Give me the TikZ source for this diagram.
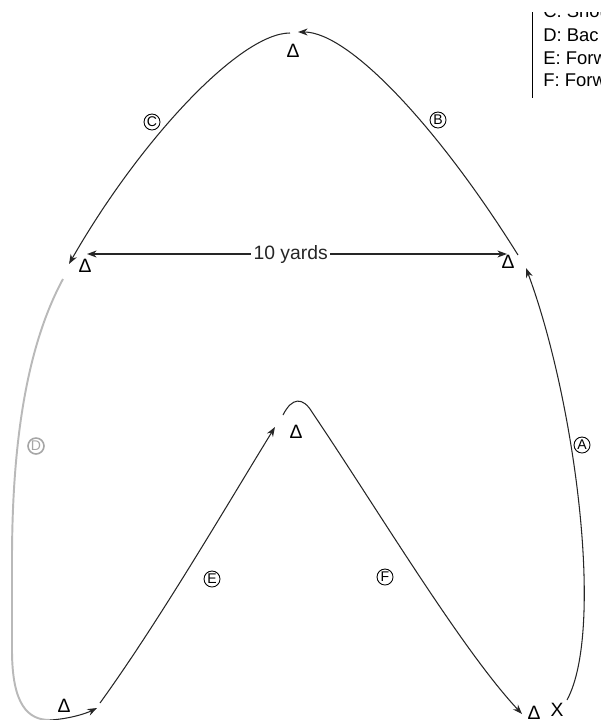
\documentclass[tikz,border=0pt]{standalone}
\usepackage{fontspec}
\setmainfont{Liberation Sans}
\usetikzlibrary{positioning,arrows.meta}

\begin{document}
\begin{tikzpicture}[x=0.02cm, y=-0.02cm, >={Stealth[length=5.5pt,width=4pt]},
  cone/.style={font=\fontsize{11}{11}\selectfont, inner sep=0pt},
  route/.style={line width=0.6pt, black!85},
  tag/.style={circle, draw, line width=0.5pt, inner sep=0pt, minimum size=0.32cm,
    font=\fontsize{8}{8}\selectfont},
  key/.style={anchor=west, inner sep=0pt, font=\fontsize{10.5}{12}\selectfont}]
  \useasboundingbox (0,0) rectangle (600,720);
  \clip (0,0) rectangle (600,720);

  % ============ CONES ============
  \node[cone] (top)      at (293,51)  {Δ};
  \node[cone] (left)     at (85,266)  {Δ};
  \node[cone] (right)    at (508,262) {Δ};
  \node[cone] (mid)      at (296,432) {Δ};
  \node[cone] (botleft)  at (64,706)  {Δ};
  \node[cone] (botright) at (534,713) {Δ};
  \node[cone] (start)    at (557,710) {X};

  % route ends (pixel grid, y down)
  \coordinate (aS) at (567,700); \coordinate (aE) at (526,268);
  \coordinate (bS) at (518,255); \coordinate (bE) at (298,32);
  \coordinate (cS) at (290,33);  \coordinate (cE) at (69,264);
  \coordinate (dS) at (63,279);  \coordinate (dM) at (50,720);
  \coordinate (dE) at (97,708);
  \coordinate (eS) at (100,703); \coordinate (eE) at (275,427);
  \coordinate (fS) at (283,415); \coordinate (fE) at (522,714);
  \coordinate (yardL) at (87,254); \coordinate (yardR) at (507,254);

  % ============ ROUTES ============
  % A: start X up to right cone
  \draw[route,->] (aS) .. controls (605,630) and (575,400) .. (aE);
  % B: right cone over the top
  \draw[route,->] (bS) .. controls (440,130) and (350,32) .. (bE);
  % C: top down to left cone
  \draw[route,->] (cS) .. controls (240,33) and (140,140) .. (cE);
  % D: left side, faded by the scan
  \draw[route, gray!55, line width=1.1pt] (dS) .. controls (30,340) and (12,430) .. (12,560)
    -- (12,650) .. controls (12,705) and (28,720) .. (dM);
  \draw[route,->] (dM) .. controls (68,719) and (85,714) .. (dE);
  % E: up to middle cone
  \draw[route,->] (eS) .. controls (160,620) and (230,500) .. (eE);
  % F: round the middle cone down to the finish
  \draw[route,->] (fS) .. controls (292,397) and (303,397) .. (312,412)
    .. controls (378,510) and (462,650) .. (fE);
  % width between the side cones
  \draw[route,<->] (yardL) -- node[pos=0.485, fill=white, inner sep=1.5pt,
    font=\fontsize{11}{11}\selectfont] (yards) {10 yards} (yardR);

  % ============ TAGS ============
  \node[tag] (tagA) at (582,445) {A};
  \node[tag] (tagB) at (438,120) {B};
  \node[tag] (tagC) at (152,122) {C};
  \node[tag, gray!70, line width=0.9pt] (tagD) at (36,446) {D};
  \node[tag] (tagE) at (212,579) {E};
  \node[tag] (tagF) at (385,577) {F};

  % ============ KEY (cut by the page edge) ============
  \begin{scope}
    \clip (532,12) rectangle (600,720);
    \draw[line width=0.5pt] (532,12) -- (532,98);
    \node[key] (keyC) at (543,11) {C: Shou};
    \node[key] (keyD) at (543,35) {D: Bac};
    \node[key] (keyE) at (543,58) {E: Forw};
    \node[key] (keyF) at (543,80) {F: Forw};
  \end{scope}
\end{tikzpicture}
\end{document}
